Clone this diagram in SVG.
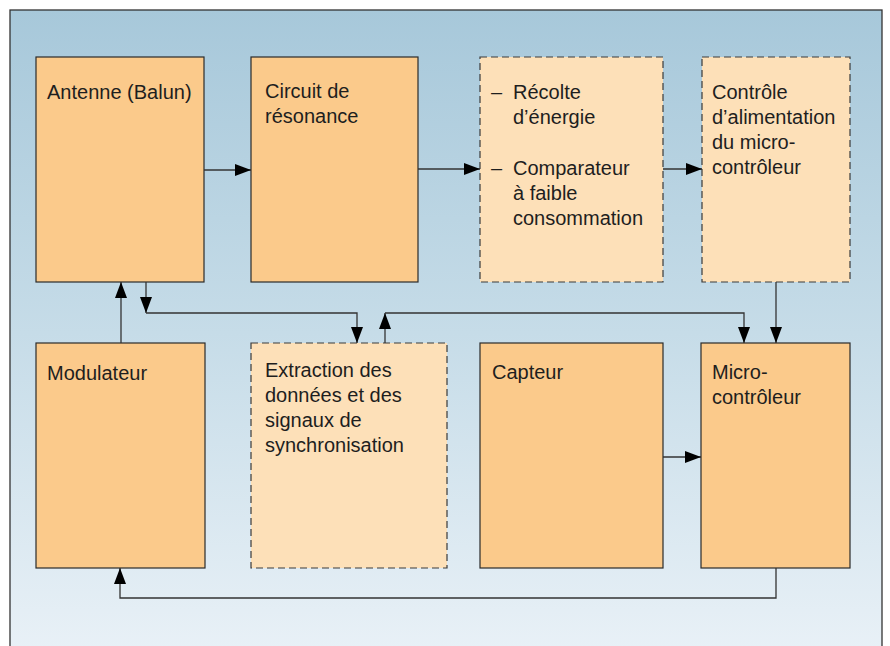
<svg xmlns="http://www.w3.org/2000/svg" width="890" height="646" viewBox="0 0 890 646">
<defs>
<linearGradient id="bg" x1="0" y1="0" x2="0" y2="1">
<stop offset="0" stop-color="#a7c8da"/>
<stop offset="0.5" stop-color="#c6dce8"/>
<stop offset="1" stop-color="#e9f1f7"/>
</linearGradient>
<marker id="arr" viewBox="0 0 16 12" refX="16" refY="6" markerWidth="16" markerHeight="12" markerUnits="userSpaceOnUse" orient="auto">
<path d="M0,0 L16,6 L0,12 Z" fill="#000"/>
</marker>
<style>
.solid{fill:#fbca8b;stroke:#2a2a2a;stroke-width:1.2}
.dash{fill:#fde0b8;stroke:#3a3a3a;stroke-width:1.2;stroke-dasharray:7,4}
.t{font-family:"Liberation Sans",Arial,sans-serif;font-size:20px;fill:#1e1e1e}
.c{fill:none;stroke:#333;stroke-width:1.3}
</style>
</defs>
<rect x="10" y="10" width="872" height="646" fill="url(#bg)" stroke="#333" stroke-width="1.3"/>
<g id="antenne"><rect class="solid" x="36" y="57" width="168" height="225"/><text class="t" x="47" y="99">Antenne (Balun)</text></g>
<g id="circuit"><rect class="solid" x="251" y="57" width="167" height="225"/><text class="t" x="265" y="98">Circuit de</text><text class="t" x="265" y="123">résonance</text></g>
<g id="recolte"><rect class="dash" x="480" y="57" width="183" height="225"/>
<text class="t" x="491" y="99">–</text><text class="t" x="513" y="99">Récolte</text><text class="t" x="513" y="124">d’énergie</text>
<text class="t" x="491" y="175">–</text><text class="t" x="513" y="175">Comparateur</text><text class="t" x="513" y="200">à faible</text><text class="t" x="513" y="225">consommation</text></g>
<g id="controle"><rect class="dash" x="702" y="57" width="148" height="225"/>
<text class="t" x="712" y="99">Contrôle</text><text class="t" x="712" y="124">d’alimentation</text><text class="t" x="712" y="149">du micro-</text><text class="t" x="712" y="174">contrôleur</text></g>
<g id="modulateur"><rect class="solid" x="36" y="343" width="169" height="225"/><text class="t" x="47" y="380">Modulateur</text></g>
<g id="extraction"><rect class="dash" x="251" y="343" width="196" height="225"/>
<text class="t" x="265" y="377">Extraction des</text><text class="t" x="265" y="402">données et des</text><text class="t" x="265" y="427">signaux de</text><text class="t" x="265" y="452">synchronisation</text></g>
<g id="capteur"><rect class="solid" x="480" y="343" width="183" height="225"/><text class="t" x="492" y="379">Capteur</text></g>
<g id="micro"><rect class="solid" x="701" y="343" width="149" height="225"/><text class="t" x="712" y="379">Micro-</text><text class="t" x="712" y="404">contrôleur</text></g>
<g id="connectors">
<line class="c" x1="204" y1="170" x2="251" y2="170" marker-end="url(#arr)"/>
<line class="c" x1="418" y1="169" x2="480" y2="169" marker-end="url(#arr)"/>
<line class="c" x1="663" y1="169" x2="702" y2="169" marker-end="url(#arr)"/>
<line class="c" x1="776" y1="282" x2="776" y2="343" marker-end="url(#arr)"/>
<line class="c" x1="146" y1="282" x2="146" y2="313" marker-end="url(#arr)"/>
<polyline class="c" points="146,313 357,313 357,343" marker-end="url(#arr)"/>
<line class="c" x1="385" y1="343" x2="385" y2="313" marker-end="url(#arr)"/>
<polyline class="c" points="385,313 744,313 744,343" marker-end="url(#arr)"/>
<line class="c" x1="121" y1="343" x2="121" y2="282" marker-end="url(#arr)"/>
<line class="c" x1="663" y1="457" x2="701" y2="457" marker-end="url(#arr)"/>
<polyline class="c" points="776,568 776,598 120,598 120,568" marker-end="url(#arr)"/>
</g>
</svg>
